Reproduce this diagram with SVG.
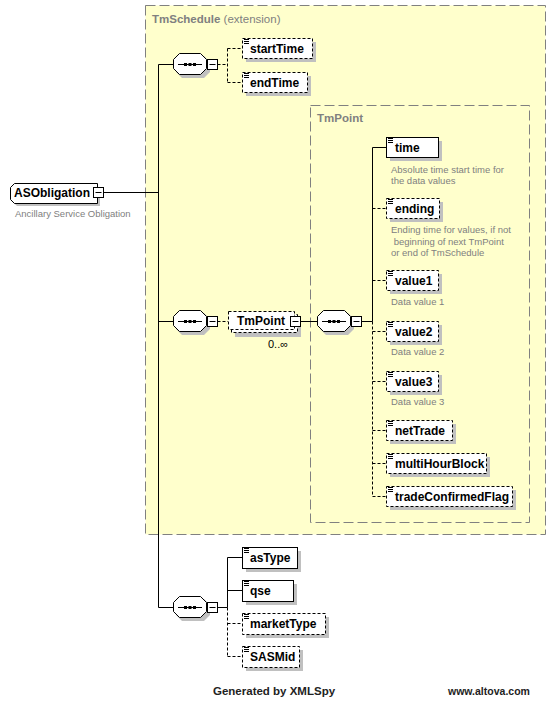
<svg xmlns="http://www.w3.org/2000/svg" xmlns:xlink="http://www.w3.org/1999/xlink" width="554" height="701" viewBox="0 0 554 701">
<style>
.sh{fill:#c0c0c0}
.bx{fill:#fff;stroke:#000;stroke-width:1}
.opt{stroke-dasharray:3,2}
.nm{font-family:"Liberation Sans",Arial,sans-serif;font-weight:bold;font-size:12px;fill:#000}
.ds{font-family:"Liberation Sans",Arial,sans-serif;font-size:9.5px;fill:#808080}
.ttl{font-family:"Liberation Sans",Arial,sans-serif;font-size:11.5px;fill:#808080}
.ln{stroke:#000;stroke-width:1;fill:none}
.dl{stroke-dasharray:3,2}
.frame{fill:#ffffcc;stroke:#808080;stroke-width:1;stroke-dasharray:10,4}
.frame2{fill:none;stroke:#808080;stroke-width:1;stroke-dasharray:10,4}
.ft{font-family:"Liberation Sans",Arial,sans-serif;font-weight:bold;fill:#222}
</style>
<defs>
<g id="ic"><path d="M0,0.5h5M0,2.5h5M0,4.5h5" stroke="#000" stroke-width="1"/></g>
<g id="seq">
<path d="M9,3H31L37,9V19L31,25H9L3,19V9Z" fill="#c0c0c0"/>
<path d="M6.5,0.5H27.5L33.5,6.5V15.5L27.5,21.5H6.5L0.5,15.5V6.5Z" fill="#fff" stroke="#000"/>
<path d="M5,11.5H29" stroke="#000"/>
<rect x="11" y="10" width="3" height="3" fill="#000"/>
<rect x="15.5" y="10" width="3" height="3" fill="#000"/>
<rect x="20" y="10" width="3" height="3" fill="#000"/>
<rect x="34.5" y="6.5" width="10" height="10" fill="#fff" stroke="#000"/>
<path d="M36.5,11.5H42.5" stroke="#000"/>
</g>
</defs>

<rect x="0" y="0" width="554" height="701" fill="#fff"/>

<g id="TmSchedule">
<rect class="frame" x="145.5" y="5.5" width="400" height="529"/>
<text class="ttl" x="152" y="23"><tspan font-weight="bold">TmSchedule</tspan> (extension)</text>
</g>
<g id="TmPointType">
<rect class="frame2" x="310.5" y="105.5" width="219" height="417"/>
<text class="ttl" x="317" y="122" font-weight="bold">TmPoint</text>
</g>

<g id="connectors">
<path class="ln" d="M103,192.5H158.5M158.5,64.5V607.5M158.5,64.5H173M158.5,321.5H173M158.5,607.5H173"/>
<path class="ln dl" d="M217.5,64.5H227.5M227.5,48.5V82.5M227.5,48.5H242M227.5,82.5H242"/>
<path class="ln dl" d="M217.5,321.5H228"/>
<path class="ln" d="M300,321.5H317M361.5,321.5H372.5M372.5,147.5V321.5M372.5,147.5H386"/>
<path class="ln dl" d="M372.5,321.5V496.5M372.5,208.5H386M372.5,280.5H386M372.5,331.5H386M372.5,381.5H386M372.5,430.5H386M372.5,463.5H386M372.5,496.5H386"/>
<path class="ln" d="M217.5,607.5H227.5M227.5,557.5V607.5M227.5,557.5H242M227.5,590.5H242"/>
<path class="ln dl" d="M227.5,607.5V656.5M227.5,623.5H242M227.5,656.5H242"/>
</g>

<g id="ASObligation">
<path d="M17,187H100V206H17L13,202V191Z" class="sh"/>
<path d="M14.5,183.5H97.5V203.5H14.5L10.5,199.5V187.5Z" class="bx"/>
<text class="nm" x="14" y="197">ASObligation</text>
<rect x="93.5" y="187.5" width="10" height="10" class="bx"/>
<path d="M95.5,192.5H101.5" stroke="#000"/>
<text class="ds" x="15" y="217">Ancillary Service Obligation</text>
</g>

<g id="seq1"><use xlink:href="#seq" href="#seq" x="173" y="53"/></g>
<g id="seq2"><use xlink:href="#seq" href="#seq" x="173" y="310"/></g>
<g id="seq3"><use xlink:href="#seq" href="#seq" x="317" y="310"/></g>
<g id="seq4"><use xlink:href="#seq" href="#seq" x="173" y="596"/></g>

<g id="startTime">
<rect class="sh" x="246" y="42" width="70" height="20"/>
<rect class="bx opt" x="242.5" y="38.5" width="70" height="20"/>
<use xlink:href="#ic" href="#ic" x="244" y="39"/>
<text class="nm" x="250" y="53">startTime</text>
</g>
<g id="endTime">
<rect class="sh" x="246" y="76" width="65" height="20"/>
<rect class="bx opt" x="242.5" y="72.5" width="65" height="20"/>
<use xlink:href="#ic" href="#ic" x="244" y="73"/>
<text class="nm" x="250" y="87">endTime</text>
</g>

<g id="TmPoint">
<rect class="sh" x="235" y="318" width="66" height="19"/>
<rect class="bx opt" x="231.5" y="314.5" width="66" height="18"/>
<rect class="bx opt" x="228.5" y="311.5" width="66" height="18"/>
<text class="nm" x="237" y="325">TmPoint</text>
<rect x="290.5" y="316.5" width="10" height="10" class="bx"/>
<path d="M292.5,321.5H298.5" stroke="#000"/>
<text x="268" y="348" font-family="Liberation Sans,Arial,sans-serif" font-size="11px" fill="#000">0..∞</text>
</g>

<g id="time">
<rect class="sh" x="390" y="141" width="52" height="20"/>
<rect class="bx" x="386.5" y="137.5" width="52" height="20"/>
<use xlink:href="#ic" href="#ic" x="388" y="138"/>
<text class="nm" x="395" y="152">time</text>
<text class="ds" x="391" y="173">Absolute time start time for</text>
<text class="ds" x="391" y="184">the data values</text>
</g>
<g id="ending">
<rect class="sh" x="390" y="202" width="53" height="20"/>
<rect class="bx opt" x="386.5" y="198.5" width="53" height="20"/>
<use xlink:href="#ic" href="#ic" x="388" y="199"/>
<text class="nm" x="395" y="213">ending</text>
<text class="ds" x="391" y="233">Ending time for values, if not</text>
<text class="ds" x="391" y="244.5" xml:space="preserve"> beginning of next TmPoint</text>
<text class="ds" x="391" y="256">or end of TmSchedule</text>
</g>
<g id="value1">
<rect class="sh" x="390" y="274" width="52" height="20"/>
<rect class="bx opt" x="386.5" y="270.5" width="52" height="20"/>
<use xlink:href="#ic" href="#ic" x="388" y="271"/>
<text class="nm" x="395" y="285">value1</text>
<text class="ds" x="391" y="305">Data value 1</text>
</g>
<g id="value2">
<rect class="sh" x="390" y="325" width="52" height="20"/>
<rect class="bx opt" x="386.5" y="321.5" width="52" height="20"/>
<use xlink:href="#ic" href="#ic" x="388" y="322"/>
<text class="nm" x="395" y="336">value2</text>
<text class="ds" x="391" y="355">Data value 2</text>
</g>
<g id="value3">
<rect class="sh" x="390" y="375" width="52" height="20"/>
<rect class="bx opt" x="386.5" y="371.5" width="52" height="20"/>
<use xlink:href="#ic" href="#ic" x="388" y="372"/>
<text class="nm" x="395" y="386">value3</text>
<text class="ds" x="391" y="405">Data value 3</text>
</g>
<g id="netTrade">
<rect class="sh" x="390" y="424" width="66" height="20"/>
<rect class="bx opt" x="386.5" y="420.5" width="66" height="20"/>
<use xlink:href="#ic" href="#ic" x="388" y="421"/>
<text class="nm" x="395" y="435">netTrade</text>
</g>
<g id="multiHourBlock">
<rect class="sh" x="390" y="457" width="100" height="20"/>
<rect class="bx opt" x="386.5" y="453.5" width="100" height="20"/>
<use xlink:href="#ic" href="#ic" x="388" y="454"/>
<text class="nm" x="395" y="468">multiHourBlock</text>
</g>
<g id="tradeConfirmedFlag">
<rect class="sh" x="390" y="490" width="126" height="20"/>
<rect class="bx opt" x="386.5" y="486.5" width="126" height="20"/>
<use xlink:href="#ic" href="#ic" x="388" y="487"/>
<text class="nm" x="395" y="501">tradeConfirmedFlag</text>
</g>

<g id="asType">
<rect class="sh" x="246" y="551" width="55" height="21"/>
<rect class="bx" x="242.5" y="547.5" width="55" height="21"/>
<use xlink:href="#ic" href="#ic" x="244" y="548"/>
<text class="nm" x="250" y="562">asType</text>
</g>
<g id="qse">
<rect class="sh" x="246" y="584" width="51" height="21"/>
<rect class="bx" x="242.5" y="580.5" width="51" height="21"/>
<use xlink:href="#ic" href="#ic" x="244" y="581"/>
<text class="nm" x="250" y="595">qse</text>
</g>
<g id="marketType">
<rect class="sh" x="246" y="617" width="83" height="21"/>
<rect class="bx opt" x="242.5" y="613.5" width="83" height="21"/>
<use xlink:href="#ic" href="#ic" x="244" y="614"/>
<text class="nm" x="250" y="628">marketType</text>
</g>
<g id="SASMid">
<rect class="sh" x="246" y="650" width="57" height="21"/>
<rect class="bx opt" x="242.5" y="646.5" width="57" height="21"/>
<use xlink:href="#ic" href="#ic" x="244" y="647"/>
<text class="nm" x="250" y="661">SASMid</text>
</g>

<g id="footer">
<text class="ft" x="213" y="695" font-size="11.5px">Generated by XMLSpy</text>
<text class="ft" x="448" y="695" font-size="10.5px">www.altova.com</text>
</g>
</svg>
